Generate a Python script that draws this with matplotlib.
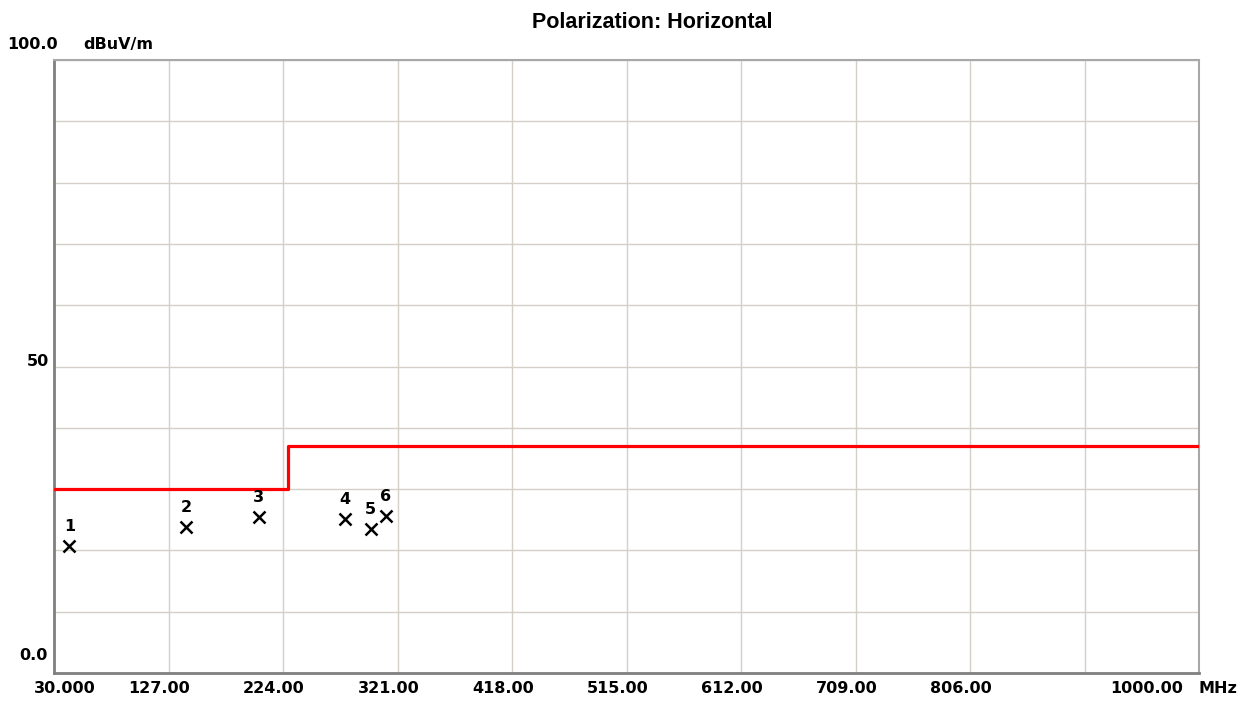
import matplotlib
matplotlib.use('Agg')
import matplotlib.pyplot as plt

# limit line (dBuV/m)
limit_freq = [30, 228, 1000]
limit_level = [30, 37, 37]

# measured peaks
peak_no = ['1', '2', '3', '4', '5', '6']
peak_freq = [43.0, 141.8, 203.4, 276.5, 298.3, 311.3]
peak_level = [20.7, 23.8, 25.5, 25.2, 23.5, 25.6]

x_ticks = [30, 127, 224, 321, 418, 515, 612, 709, 806, 903, 1000]
x_labels = ['30.000', '127.00', '224.00', '321.00', '418.00', '515.00',
            '612.00', '709.00', '806.00', '', '1000.00']
y_ticks = [0, 10, 20, 30, 40, 50, 60, 70, 80, 90, 100]

fig = plt.figure(figsize=(12.5, 7.02), dpi=100)
ax = fig.add_axes([0.0432, 0.0413, 0.916, 0.8732])

ax.set_xlim(30, 1000)
ax.set_ylim(0, 100)
ax.set_xticks(x_ticks)
ax.set_yticks(y_ticks)
ax.set_xticklabels([])
ax.set_yticklabels([])
ax.tick_params(length=0)
ax.grid(True, color='#d4d0c8', linewidth=1)
ax.set_axisbelow(True)

for side in ['left', 'bottom']:
    ax.spines[side].set_color('#808080')
    ax.spines[side].set_linewidth(2)
for side in ['top', 'right']:
    ax.spines[side].set_color('#a8a8a8')
    ax.spines[side].set_linewidth(1.5)

# limit line
ax.step(limit_freq, limit_level, where='post', color='#ff0000', linewidth=2.3, zorder=3)

lab = dict(fontsize=11.5, fontweight='bold', family='DejaVu Sans')

# peaks
ax.plot(peak_freq, peak_level, 'x', color='black', markersize=9, markeredgewidth=1.8, zorder=4)
for n, f, lv in zip(peak_no, peak_freq, peak_level):
    ax.annotate(n, (f, lv), xytext=(0, 12), textcoords='offset pixels',
                ha='center', va='bottom', **lab)

# x tick labels (custom placement like the analyser software)
xt = ax.get_xaxis_transform()
for f, s in zip(x_ticks, x_labels):
    if not s:
        continue
    if f == x_ticks[0]:
        ax.annotate(s, (f, 0), xycoords=xt, xytext=(11, -15), textcoords='offset pixels',
                    ha='center', va='center', **lab)
    elif f == x_ticks[-1]:
        ax.annotate(s, (f, 0), xycoords=xt, xytext=(-16, -15), textcoords='offset pixels',
                    ha='right', va='center', **lab)
    else:
        ax.annotate(s, (f, 0), xycoords=xt, xytext=(-9, -15), textcoords='offset pixels',
                    ha='center', va='center', **lab)
ax.annotate('MHz', (1, 0), xycoords='axes fraction', xytext=(0, -15), textcoords='offset pixels',
            ha='left', va='center', **lab)

# y labels
yt = ax.get_yaxis_transform()
ax.annotate('100.0', (0, 100), xycoords=yt, xytext=(4, 16), textcoords='offset pixels',
            ha='right', va='center', **lab)
ax.annotate('dBuV/m', (0, 100), xycoords=yt, xytext=(29, 16), textcoords='offset pixels',
            ha='left', va='center', **lab)
ax.annotate('50', (0, 50), xycoords=yt, xytext=(-5, 5), textcoords='offset pixels',
            ha='right', va='center', **lab)
ax.annotate('0.0', (0, 0), xycoords=yt, xytext=(-6, 18), textcoords='offset pixels',
            ha='right', va='center', **lab)

fig.text(0.522, 0.968, 'Polarization: Horizontal', ha='center', va='center',
         fontsize=15.5, fontweight='bold', family='Liberation Sans')

fig.savefig('out.png', dpi=100)
